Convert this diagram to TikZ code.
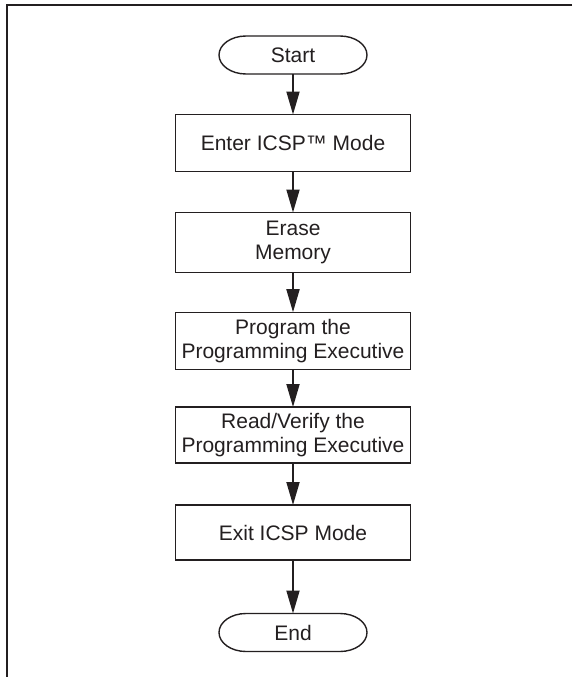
\documentclass[tikz,border=0pt]{standalone}
\usepackage{fontspec}
\setmainfont{Liberation Sans}
\usetikzlibrary{arrows.meta}
\definecolor{ink}{HTML}{231F20}
% outline of a start/end terminal around a named node
\newcommand\termline[1]{%
  \draw[boxline] ([xshift=27pt]#1.north west) -- ([xshift=-27pt]#1.north east)
    arc[start angle=90,end angle=-90,x radius=27pt,y radius=19pt]
    -- ([xshift=27pt]#1.south west)
    arc[start angle=270,end angle=90,x radius=27pt,y radius=19pt] -- cycle;}
\begin{document}
\begin{tikzpicture}[x=1pt,y=-1pt,
  boxline/.style={draw=ink,line width=1.4pt},
  stepbox/.style={boxline,minimum width=235pt,minimum height=57pt,inner sep=0pt,outer sep=0pt,
    align=center,font=\fontsize{21}{24}\selectfont,text=ink},
  term/.style={minimum width=148pt,minimum height=38pt,inner sep=0pt,outer sep=0pt,
    font=\fontsize{21}{24}\selectfont,text=ink},
  arr/.style={draw=ink,line width=1.8pt,-{Triangle[length=23pt,width=13pt]}}]
\useasboundingbox (0,0) rectangle (573,677);
% frame edges
\coordinate (ftr) at (572,5);
\coordinate (ftl) at (7,5);
\coordinate (fbl) at (7,677);
\draw[ink,line width=2.6pt] (ftr) -- (ftl) -- (fbl);
% flow
\node[term] (start) at (293,55) {Start};
\termline{start}
\node[stepbox] (enter) at (293,143) {Enter ICSP™ Mode};
\node[stepbox,minimum height=60pt] (erase) at (293,242.5) {Erase\\Memory};
\node[stepbox] (prog) at (293,340.7) {Program the\\Programming Executive};
\node[stepbox,minimum height=56pt] (verify) at (293,435) {Read/Verify the\\Programming Executive};
\node[stepbox,minimum height=55pt] (exit) at (293,532.5) {Exit ICSP Mode};
\node[term] (end) at (293,632.5) {End};
\termline{end}
\draw[arr] (start) -- (enter);
\draw[arr] (enter) -- (erase);
\draw[arr] (erase) -- (prog);
\draw[arr] (prog) -- (verify);
\draw[arr] (verify) -- (exit);
\draw[arr] (exit) -- (end);
\end{tikzpicture}
\end{document}
